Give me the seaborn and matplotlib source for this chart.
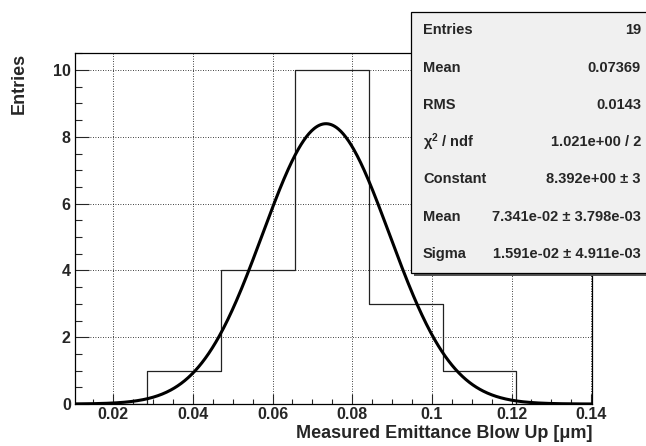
import numpy as np
import pandas as pd
import seaborn as sns
import matplotlib
matplotlib.use("Agg")
import matplotlib.pyplot as plt
from matplotlib.patches import Rectangle
from matplotlib.ticker import MultipleLocator, FixedLocator, FixedFormatter

# Histogram of measured blow-up values (7 bins, outer ones empty)
bin_edges = [0.01008, 0.0286, 0.04712, 0.06564, 0.08416, 0.10268, 0.1212, 0.13972]
bin_counts = [0, 1, 4, 10, 3, 1, 0]

# Gaussian fit parameters
fit_constant = 8.392
fit_mean = 0.07341
fit_sigma = 0.01591

x_ticks = [0.02, 0.04, 0.06, 0.08, 0.10, 0.12, 0.14]
x_tick_labels = ["0.02", "0.04", "0.06", "0.08", "0.1", "0.12", "0.14"]
y_ticks = [0, 2, 4, 6, 8, 10]
y_tick_labels = ["0", "2", "4", "6", "8", "10"]

stat_names = ["Entries", "Mean", "RMS", r"$\chi^{2}$ / ndf", "Constant", "Mean", "Sigma"]
stat_values = ["19", "0.07369", "0.0143", "1.021e+00 / 2", "8.392e+00 ± 3",
               "7.341e-02 ± 3.798e-03", "1.591e-02 ± 4.911e-03"]

sns.set_style("white")
plt.rcParams["font.family"] = ["Liberation Sans", "DejaVu Sans"]
plt.rcParams["font.weight"] = "bold"
plt.rcParams["mathtext.fontset"] = "custom"
plt.rcParams["mathtext.rm"] = "Liberation Sans:bold"
plt.rcParams["mathtext.it"] = "Liberation Sans:italic:bold"
plt.rcParams["mathtext.default"] = "regular"

W, H = 646, 446
fig = plt.figure(figsize=(W / 100, H / 100), dpi=100)
ax_l, ax_r, ax_t, ax_b = 75, 592, 53.3, 404
ax = fig.add_axes([ax_l / W, 1 - ax_b / H, (ax_r - ax_l) / W, (ax_b - ax_t) / H])

centers = [(a + b) / 2 for a, b in zip(bin_edges[:-1], bin_edges[1:])]
hist_df = pd.DataFrame({"x": centers, "n": bin_counts})
sns.histplot(data=hist_df, x="x", weights="n", bins=bin_edges, element="step",
             fill=False, color="#222222", linewidth=0.9, ax=ax)

xlim = (0.0104, 0.1402)
xs = np.linspace(xlim[0], xlim[1], 600)
fit_df = pd.DataFrame({
    "x": xs,
    "y": fit_constant * np.exp(-0.5 * ((xs - fit_mean) / fit_sigma) ** 2),
})
sns.lineplot(data=fit_df, x="x", y="y", color="black", linewidth=2.2, ax=ax)

ax.set_xlim(*xlim)
ax.set_ylim(0, 10.5)

ax.xaxis.set_major_locator(FixedLocator(x_ticks))
ax.xaxis.set_major_formatter(FixedFormatter(x_tick_labels))
ax.xaxis.set_minor_locator(MultipleLocator(0.005))
ax.yaxis.set_major_locator(FixedLocator(y_ticks))
ax.yaxis.set_major_formatter(FixedFormatter(y_tick_labels))
ax.yaxis.set_minor_locator(MultipleLocator(0.5))

ax.tick_params(axis="x", which="major", direction="in", length=7, width=0.8,
               pad=2, labelsize=11.5, bottom=True, top=False)
ax.tick_params(axis="x", which="minor", direction="in", length=3.5, width=0.8,
               bottom=True, top=False)
ax.tick_params(axis="y", which="major", direction="in", length=14 * 0.72, width=0.8,
               pad=3, labelsize=11.5, left=True, right=False)
ax.tick_params(axis="y", which="minor", direction="in", length=7 * 0.72, width=0.8,
               left=True, right=False)
for lbl in ax.get_xticklabels() + ax.get_yticklabels():
    lbl.set_fontweight("bold")

ax.grid(True, which="major", color="black", linestyle=(0, (1, 2)), linewidth=0.6)
ax.set_axisbelow(True)
for sp in ax.spines.values():
    sp.set_color("black")
    sp.set_linewidth(0.9)

ax.set_xlabel("Measured Emittance Blow Up [μm]", fontsize=13, fontweight="bold", loc="right")
ax.xaxis.set_label_coords(1.0, -0.061)
ax.set_ylabel("Entries", fontsize=13, fontweight="bold", loc="top")
ax.yaxis.set_label_coords(-0.091, 1.0)

# statistics box
bx_l, bx_t, bx_r, bx_b = 411, 11.7, 660, 272.7
shadow = Rectangle(((bx_l + 3) / W, 1 - (bx_b + 3) / H), (bx_r - bx_l) / W,
                   (bx_b - bx_t) / H, transform=fig.transFigure,
                   facecolor="#555555", edgecolor="none", zorder=10)
box = Rectangle((bx_l / W, 1 - bx_b / H), (bx_r - bx_l) / W, (bx_b - bx_t) / H,
                transform=fig.transFigure, facecolor="#f0f0f0",
                edgecolor="black", linewidth=0.9, zorder=11)
fig.patches.extend([shadow, box])

row_h = (bx_b - bx_t) / len(stat_names)
for i, (name, val) in enumerate(zip(stat_names, stat_values)):
    yc = bx_t + (i + 0.5) * row_h
    fig.text(423 / W, 1 - yc / H, name, ha="left", va="center", fontsize=10.5,
             fontweight="bold", zorder=12)
    fig.text(641 / W, 1 - yc / H, val, ha="right", va="center", fontsize=10.5,
             fontweight="bold", zorder=12)

fig.savefig("out.png", dpi=100, facecolor="white")
